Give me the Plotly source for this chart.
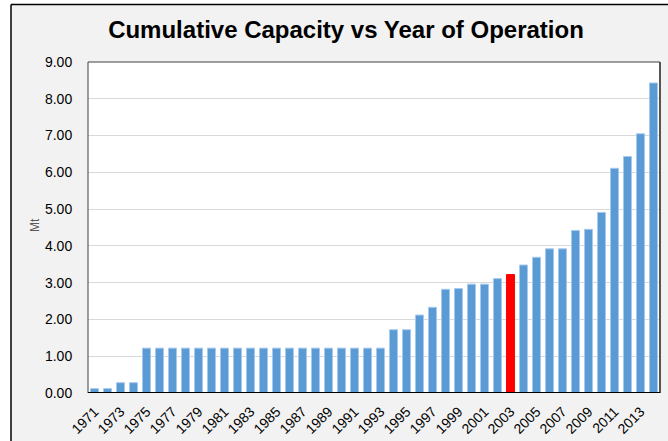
import plotly.graph_objects as go

# Cumulative capacity (Mt) by year of operation
years = [str(y) for y in range(1971, 2015)]
capacity = [
    0.12, 0.12, 0.28, 0.28,                                  # 1971-1974
    1.22, 1.22, 1.22, 1.22, 1.22, 1.22, 1.22, 1.22, 1.22,    # 1975-1983
    1.22, 1.22, 1.22, 1.22, 1.22, 1.22, 1.22, 1.22, 1.22,    # 1984-1992
    1.22,                                                    # 1993
    1.72, 1.72, 2.12, 2.33, 2.82, 2.84, 2.96, 2.96, 3.11,    # 1994-2002
    3.22,                                                    # 2003
    3.48, 3.69, 3.92, 3.92, 4.42, 4.45, 4.91, 6.11, 6.43,    # 2004-2012
    7.05, 8.43,                                              # 2013-2014
]
highlight_year = "2003"
tick_years = [str(y) for y in range(1971, 2015, 2)]
y_ticks = [0, 1, 2, 3, 4, 5, 6, 7, 8, 9]

BLUE = "#5b9bd5"
RED = "#ff0000"
colors = [RED if y == highlight_year else BLUE for y in years]
edges = ["#ff0000" if y == highlight_year else "#a9c9ea" for y in years]

FONT = "Liberation Sans, Arial, sans-serif"

fig = go.Figure(
    go.Bar(
        x=years,
        y=capacity,
        marker=dict(color=colors, line=dict(color=edges, width=1)),
        hoverinfo="x+y",
    )
)

W, H = 668, 441
L, R, T, B = 88, 8, 62, 48
pw, ph = W - L - R, H - T - B


def px_x(px):
    return (px - L) / pw


def px_y(py):
    return (H - B - py) / ph


shapes = [
    # white margin outside the chart frame
    dict(type="rect", xref="paper", yref="paper", x0=px_x(0), x1=px_x(W + 5),
         y0=px_y(0), y1=px_y(4), fillcolor="white", line_width=0, layer="below"),
    dict(type="rect", xref="paper", yref="paper", x0=px_x(0), x1=px_x(11),
         y0=px_y(0), y1=px_y(H + 5), fillcolor="white", line_width=0, layer="below"),
    # chart frame
    dict(type="line", xref="paper", yref="paper", x0=px_x(11), x1=px_x(W + 5),
         y0=px_y(4.5), y1=px_y(4.5), line=dict(color="black", width=1.5)),
    dict(type="line", xref="paper", yref="paper", x0=px_x(11), x1=px_x(11),
         y0=px_y(4.5), y1=px_y(H + 5), line=dict(color="black", width=1.5)),
    # plot area border
    dict(type="line", xref="paper", yref="paper", x0=0, x1=1, y0=1, y1=1,
         line=dict(color="#404040", width=1)),
    dict(type="line", xref="paper", yref="paper", x0=0, x1=0, y0=0, y1=1,
         line=dict(color="#404040", width=1)),
    dict(type="line", xref="paper", yref="paper", x0=1, x1=1, y0=0, y1=1,
         line=dict(color="#555555", width=2)),
    # baseline
    dict(type="line", xref="paper", yref="y", x0=0, x1=1, y0=0, y1=0,
         line=dict(color="black", width=2)),
]

fig.update_layout(
    width=W,
    height=H,
    margin=dict(l=L, r=R, t=T, b=B, pad=0, autoexpand=False),
    paper_bgcolor="#f2f2f2",
    plot_bgcolor="white",
    bargap=0.38,
    showlegend=False,
    font=dict(family=FONT, color="black"),
    title=dict(
        text="<b>Cumulative Capacity vs Year of Operation</b>",
        font=dict(family=FONT, size=24, color="black"),
        x=346 / W,
        xanchor="center",
        xref="container",
        y=1 - 30 / H,
        yanchor="middle",
        yref="container",
    ),
    xaxis=dict(
        type="category",
        tickmode="array",
        tickvals=tick_years,
        ticktext=tick_years,
        tickangle=-45,
        tickfont=dict(size=14, color="black"),
        showgrid=False,
        showline=False,
        ticks="outside",
        ticklen=4,
        tickcolor="rgba(0,0,0,0)",
        automargin=False,
    ),
    yaxis=dict(
        range=[0, 9],
        tickmode="array",
        tickvals=y_ticks,
        tickformat=".2f",
        tickfont=dict(size=14, color="black"),
        showgrid=True,
        gridcolor="#d9d9d9",
        gridwidth=1,
        zeroline=False,
        showline=False,
        ticks="outside",
        ticklen=12,
        tickcolor="rgba(0,0,0,0)",
        automargin=False,
    ),
    shapes=shapes,
    annotations=[
        dict(text="Mt", xref="paper", yref="paper", x=px_x(35), y=px_y(225),
             textangle=-90, showarrow=False, xanchor="center", yanchor="middle",
             font=dict(family=FONT, size=12, color="#595959")),
    ],
)

fig.write_html("out.html")
